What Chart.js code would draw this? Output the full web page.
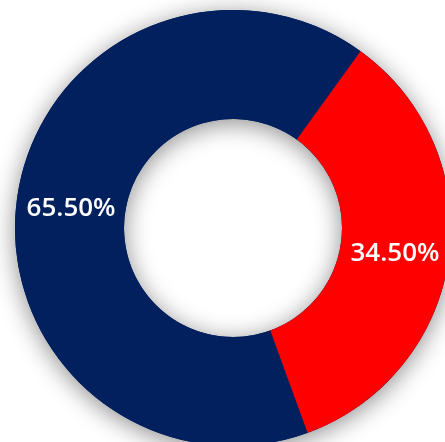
<!DOCTYPE html>
<html>
<head>
<meta charset="utf-8">
<script src="https://cdn.jsdelivr.net/npm/chart.js@4"></script>
<style>
  html, body { margin: 0; padding: 0; background: #fff; overflow: hidden; }
  #wrap { position: absolute; left: 0; top: 0; width: 466px; height: 456px; }
</style>
</head>
<body>
<div id="wrap"><canvas id="shareChart" width="466" height="456"></canvas></div>
<script>
  // Share split
  const labels = ['Group A', 'Group B'];
  const shares = [65.5, 34.5];
  const colors = ['#02205E', '#FF0000'];

  const labelFont = '600 26px "Open Sans"';

  // soft shadow under the whole ring
  const ringShadow = {
    id: 'ringShadow',
    beforeDatasetsDraw(chart) {
      const arc = chart.getDatasetMeta(0).data[0];
      if (!arc) return;
      const ctx = chart.ctx;
      ctx.save();
      ctx.shadowColor = 'rgba(0, 0, 0, 0.45)';
      ctx.shadowBlur = 24;
      ctx.shadowOffsetY = 4;
      ctx.fillStyle = colors[0];
      ctx.beginPath();
      ctx.arc(arc.x, arc.y, arc.outerRadius, 0, Math.PI * 2);
      ctx.arc(arc.x, arc.y, arc.innerRadius, 0, Math.PI * 2, true);
      ctx.fill();
      ctx.restore();
    }
  };

  // percentage labels in the middle of each slice
  const sliceLabels = {
    id: 'sliceLabels',
    afterDatasetsDraw(chart) {
      const ctx = chart.ctx;
      const meta = chart.getDatasetMeta(0);
      ctx.save();
      ctx.fillStyle = '#fff';
      ctx.font = labelFont;
      ctx.textAlign = 'center';
      ctx.textBaseline = 'middle';
      meta.data.forEach((el, i) => {
        const p = el.tooltipPosition();
        ctx.fillText(shares[i].toFixed(2) + '%', p.x, p.y + 3);
      });
      ctx.restore();
    }
  };

  function draw() {
    const ctx = document.getElementById('shareChart').getContext('2d');
    new Chart(ctx, {
      type: 'doughnut',
      data: {
        labels: labels,
        datasets: [{
          data: shares,
          backgroundColor: colors,
          borderWidth: 0
        }]
      },
      options: {
        responsive: false,
        animation: false,
        cutout: '50%',
        rotation: 160,
        layout: { padding: 10 },
        plugins: {
          legend: { display: false },
          tooltip: { enabled: false }
        }
      },
      plugins: [ringShadow, sliceLabels]
    });
  }

  document.fonts.load(labelFont).then(draw, draw);
</script>
</body>
</html>
